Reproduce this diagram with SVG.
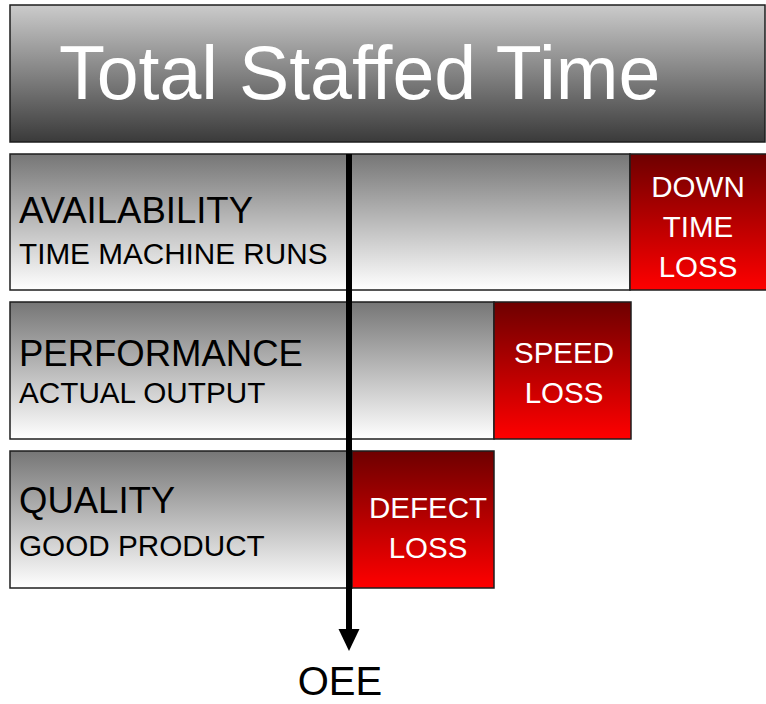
<svg xmlns="http://www.w3.org/2000/svg" width="766" height="704" viewBox="0 0 766 704">
<defs>
<linearGradient id="gTitle" x1="0" y1="0" x2="0" y2="1">
<stop offset="0" stop-color="#cbcbcb"/>
<stop offset="1" stop-color="#3a3a3a"/>
</linearGradient>
<linearGradient id="gGray" x1="0" y1="0" x2="0" y2="1">
<stop offset="0" stop-color="#767676"/>
<stop offset="1" stop-color="#ffffff"/>
</linearGradient>
<linearGradient id="gRed" x1="0" y1="0" x2="0" y2="1">
<stop offset="0" stop-color="#6e0000"/>
<stop offset="1" stop-color="#ff0000"/>
</linearGradient>
</defs>
<style>
.gray{fill:url(#gGray);stroke:#1e1e1e;stroke-width:1.5}
.red{fill:url(#gRed);stroke:#1e1e1e;stroke-width:1.5}
.main{font-family:"Liberation Sans",Arial,sans-serif;font-size:36.5px;fill:#000}
.sub{font-family:"Liberation Sans",Arial,sans-serif;font-size:29.7px;fill:#000}
.loss{font-family:"Liberation Sans",Arial,sans-serif;font-size:29.5px;fill:#fff;text-anchor:middle}
</style>
<g id="title">
<rect x="10" y="5" width="755" height="137" fill="url(#gTitle)" stroke="#1e1e1e" stroke-width="1.5"/>
<text x="59" y="99" font-family="'Liberation Sans',Arial,sans-serif" font-size="75.3" fill="#fff">Total Staffed Time</text>
</g>
<g id="availability">
<rect class="gray" x="10" y="154" width="620" height="136"/>
<text class="main" x="19" y="223">AVAILABILITY</text>
<text class="sub" x="19" y="264">TIME MACHINE RUNS</text>
</g>
<g id="downtime-loss">
<rect class="red" x="630" y="154" width="140" height="136"/>
<text class="loss" x="698" y="197">DOWN</text>
<text class="loss" x="698" y="237">TIME</text>
<text class="loss" x="698" y="277">LOSS</text>
</g>
<g id="performance">
<rect class="gray" x="10" y="302" width="484" height="137"/>
<text class="main" x="19" y="366">PERFORMANCE</text>
<text class="sub" x="19" y="403">ACTUAL OUTPUT</text>
</g>
<g id="speed-loss">
<rect class="red" x="494" y="302" width="137" height="137"/>
<text class="loss" x="564" y="363">SPEED</text>
<text class="loss" x="564" y="403">LOSS</text>
</g>
<g id="quality">
<rect class="gray" x="10" y="451" width="342" height="137"/>
<text class="main" x="19" y="513">QUALITY</text>
<text class="sub" x="19" y="556">GOOD PRODUCT</text>
</g>
<g id="defect-loss">
<rect class="red" x="352" y="451" width="142" height="137"/>
<text class="loss" x="428" y="518">DEFECT</text>
<text class="loss" x="428" y="558">LOSS</text>
</g>
<g id="connectors">
<line x1="349" y1="154" x2="349" y2="630" stroke="#000" stroke-width="6"/>
<path d="M338.5,629 L359.5,629 L349,651 Z" fill="#000"/>
</g>
<g id="oee">
<text x="340" y="695" font-family="'Liberation Sans',Arial,sans-serif" font-size="40" fill="#000" text-anchor="middle">OEE</text>
</g>
</svg>
